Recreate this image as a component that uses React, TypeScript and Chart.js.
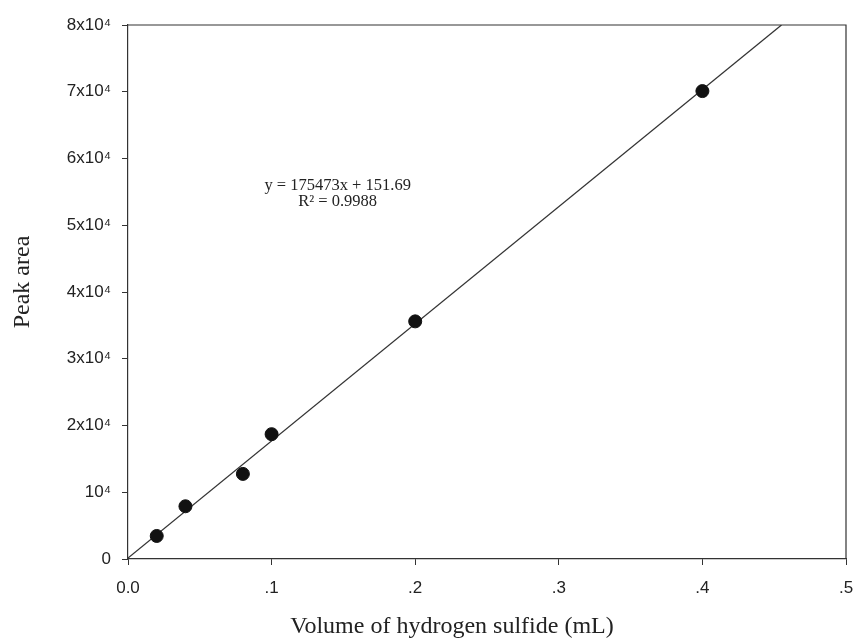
import React, { useEffect, useRef } from "react";
import { Chart, registerables } from "chart.js";

Chart.register(...registerables);

const volumes = [0.02, 0.04, 0.08, 0.1, 0.2, 0.4];
const peakAreas = [3450, 7900, 12750, 18700, 35600, 70100];
const slope = 175473;
const intercept = 151.69;
const fitRange = [0, 0.4551];
const xTicks = [0, 0.1, 0.2, 0.3, 0.4, 0.5];
const xTickLabels = ["0.0", ".1", ".2", ".3", ".4", ".5"];
const yTicks = [0, 10000, 20000, 30000, 40000, 50000, 60000, 70000, 80000];
const yTickLabels = ["0", "10⁴", "2x10⁴", "3x10⁴", "4x10⁴", "5x10⁴", "6x10⁴", "7x10⁴", "8x10⁴"];
const equationLines = ["y = 175473x + 151.69", "R² = 0.9988"];
const equationAnchor = { x: 0.146, y: 55900 };
const xTitle = "Volume of hydrogen sulfide (mL)";
const yTitle = "Peak area";
const xTitleCenter = 0.2256;
const yTitleCenter = 41500;

export default function App() {
  const ref = useRef<HTMLCanvasElement | null>(null);

  useEffect(() => {
    document.body.style.margin = "0";
    const canvas = ref.current!;
    const boxPlugin = {
      id: "boxAndText",
      afterDatasetsDraw(chart: any) {
        const { ctx, chartArea, scales } = chart;
        ctx.save();
        ctx.strokeStyle = "#333";
        ctx.lineWidth = 1.2;
        ctx.beginPath();
        ctx.moveTo(chartArea.left, chartArea.top);
        ctx.lineTo(chartArea.right, chartArea.top);
        ctx.lineTo(chartArea.right, chartArea.bottom);
        ctx.stroke();
        ctx.fillStyle = "#222";
        ctx.font = '16.5px "Liberation Serif", "Times New Roman", serif';
        ctx.textAlign = "center";
        ctx.textBaseline = "middle";
        const px = scales.x.getPixelForValue(equationAnchor.x);
        const py = scales.y.getPixelForValue(equationAnchor.y);
        equationLines.forEach((t, i) => ctx.fillText(t, px, py + i * 16));

        ctx.font = '24px "Liberation Serif", "Times New Roman", serif';
        ctx.textBaseline = "alphabetic";
        ctx.fillText(xTitle, scales.x.getPixelForValue(xTitleCenter), scales.x.bottom - 9);
        ctx.translate(scales.y.left + 29, scales.y.getPixelForValue(yTitleCenter));
        ctx.rotate(-Math.PI / 2);
        ctx.fillText(yTitle, 0, 0);
        ctx.restore();
      },
    };

    const chart = new Chart(canvas, {
      type: "scatter",
      data: {
        datasets: [
          {
            type: "line",
            label: "fit",
            data: fitRange.map((x) => ({ x, y: slope * x + intercept })),
            borderColor: "#333",
            borderWidth: 1.2,
            pointRadius: 0,
            fill: false,
            order: 2,
          } as any,
          {
            label: "data",
            data: volumes.map((x, i) => ({ x, y: peakAreas[i] })),
            backgroundColor: "#111",
            borderColor: "#111",
            pointRadius: 6.5,
            order: 1,
          },
        ],
      },
      options: {
        animation: false,
        responsive: false,
        layout: { padding: { top: 25, right: 0, left: 0, bottom: 0 } },
        plugins: { legend: { display: false }, tooltip: { enabled: false } },
        scales: {
          x: {
            type: "linear",
            min: 0,
            max: 0.5,
            afterBuildTicks: (s: any) => {
              s.ticks = xTicks.map((v) => ({ value: v }));
            },
            afterFit: (s: any) => {
              s.height = 83;
              s.paddingRight = 9;
              s.paddingLeft = 0;
            },
            ticks: {
              callback: (v: any) => xTickLabels[xTicks.findIndex((t) => Math.abs(t - v) < 1e-9)] ?? "",
              color: "#222",
              font: { family: '"Liberation Sans", Arial, sans-serif', size: 17 },
              padding: 13,
              maxRotation: 0,
            },
            grid: { drawOnChartArea: false, drawTicks: true, tickLength: 6, color: "#333" },
            border: { display: true, color: "#333", width: 1.2 },
          },
          y: {
            type: "linear",
            min: 0,
            max: 80000,
            afterBuildTicks: (s: any) => {
              s.ticks = yTicks.map((v) => ({ value: v }));
            },
            afterFit: (s: any) => {
              s.width = 128;
              s.paddingTop = 0;
              s.paddingBottom = 0;
            },
            ticks: {
              callback: (v: any) => yTickLabels[yTicks.indexOf(v)] ?? "",
              color: "#222",
              font: { family: '"Liberation Sans", Arial, sans-serif', size: 17 },
              padding: 11,
            },
            grid: { drawOnChartArea: false, drawTicks: true, tickLength: 6, color: "#333" },
            border: { display: true, color: "#333", width: 1.2 },
          },
        },
      },
      plugins: [boxPlugin],
    });
    return () => chart.destroy();
  }, []);

  return <canvas ref={ref} width={855} height={642} style={{ display: "block" }} />;
}
